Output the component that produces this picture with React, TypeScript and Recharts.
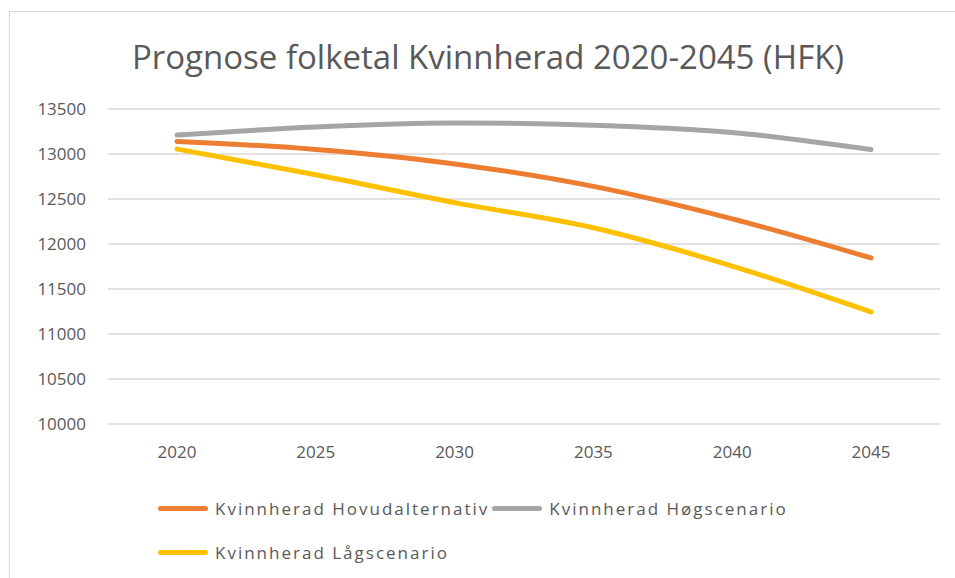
import { CartesianGrid, Line, LineChart, XAxis, YAxis } from 'recharts'

const years = ['2020', '2025', '2030', '2035', '2040', '2045']
const hovudalternativ = [13140, 13050, 12890, 12640, 12280, 11845]
const hogscenario = [13210, 13300, 13345, 13320, 13240, 13050]
const lagscenario = [13055, 12770, 12460, 12180, 11755, 11245]
const yTicks = [10000, 10500, 11000, 11500, 12000, 12500, 13000, 13500]

const series = [
  { key: 'hovud', name: 'Kvinnherad Hovudalternativ', color: '#ED7D31' },
  { key: 'hog', name: 'Kvinnherad Høgscenario', color: '#A5A5A5' },
  { key: 'lag', name: 'Kvinnherad Lågscenario', color: '#FFC000' },
]

const data = years.map((year, i) => ({
  year,
  hovud: hovudalternativ[i],
  hog: hogscenario[i],
  lag: lagscenario[i],
}))

const font = '"Open Sans", sans-serif'
const textColor = '#595959'

const LegendBox = () => (
  <div
    style={{
      position: 'absolute',
      left: 158,
      top: 496,
      display: 'flex',
      flexWrap: 'wrap',
      width: 680,
      fontFamily: font,
      fontSize: 17,
      letterSpacing: 2,
      color: textColor,
      rowGap: 20,
    }}
  >
    {series.map((s) => (
      <div key={s.key} style={{ display: 'flex', alignItems: 'center', height: 24 }}>
        <span
          style={{
            display: 'inline-block',
            width: 50,
            height: 5,
            borderRadius: 3,
            background: s.color,
            marginRight: 7,
          }}
        />
        <span style={{ marginRight: 3 }}>{s.name}</span>
      </div>
    ))}
  </div>
)

const App = () => {
  return (
    <div
      style={{
        position: 'absolute',
        left: 0,
        top: 0,
        width: 955,
        height: 578,
        background: '#fff',
        overflow: 'hidden',
      }}
    >
      <div
        style={{
          position: 'absolute',
          left: 9,
          top: 11,
          width: 960,
          height: 600,
          border: '1px solid #d9d9d9',
        }}
      />
      <div
        style={{
          position: 'absolute',
          left: 0,
          top: 34,
          width: 976,
          textAlign: 'center',
          fontFamily: font,
          fontSize: 33,
          color: textColor,
        }}
      >
        Prognose folketal Kvinnherad 2020-2045 (HFK)
      </div>
      <div style={{ position: 'absolute', left: 0, top: 0 }}>
        <LineChart
          width={955}
          height={578}
          data={data}
          margin={{ top: 109, right: 15, left: 48, bottom: 124 }}
        >
          <CartesianGrid vertical={false} stroke="#d9d9d9" strokeWidth={1.5} />
          <XAxis
            dataKey="year"
            axisLine={false}
            tickLine={false}
            tickSize={0}
            tickMargin={22}
            height={30}
            padding={{ left: 69, right: 69 }}
            tick={{ fill: textColor, fontSize: 17, fontFamily: font }}
          />
          <YAxis
            domain={[10000, 13500]}
            ticks={yTicks}
            axisLine={false}
            tickLine={false}
            tickSize={0}
            tickMargin={22}
            width={60}
            tick={{ fill: textColor, fontSize: 17, fontFamily: font }}
          />
          {series.map((s) => (
            <Line
              key={s.key}
              dataKey={s.key}
              name={s.name}
              type="monotone"
              stroke={s.color}
              strokeWidth={5}
              strokeLinecap="round"
              dot={false}
              activeDot={false}
              isAnimationActive={false}
            />
          ))}
        </LineChart>
      </div>
      <LegendBox />
    </div>
  )
}

export default App
